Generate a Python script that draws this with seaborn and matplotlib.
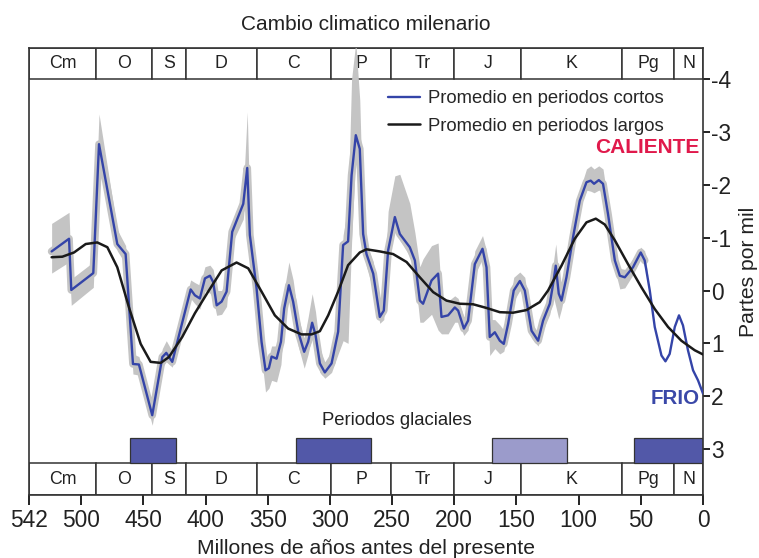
import numpy as np
import pandas as pd
import matplotlib
matplotlib.use("Agg")
import matplotlib.pyplot as plt
import seaborn as sns

# ---------------- data ----------------
short_age = [523.8, 509.8, 508.0, 490.3, 485.7, 471.0, 464.3, 458.4, 453.6, 442.9,
             434.8, 431.6, 426.8, 412.0, 408.6, 404.6, 400.5, 396.5, 393.9, 391.1,
             387.1, 383.1, 378.6, 369.7, 366.5, 364.4, 359.0, 355.0, 351.8, 349.1,
             346.9, 342.9, 339.4, 336.8, 333.0, 329.6, 325.5, 320.7, 317.5, 314.3,
             311.6, 308.1, 304.1, 298.7, 293.4, 289.4, 285.4, 282.6, 279.2, 276.0,
             273.3, 270.6, 265.2, 259.9, 256.7, 253.2, 247.8, 243.8, 235.8, 231.7,
             227.7, 225.1, 218.3, 213.0, 210.3, 205.0, 199.6, 196.9, 192.3, 188.9,
             183.5, 177.3, 174.1, 171.5, 167.4, 163.4, 160.2, 156.7, 152.2, 147.3,
             143.3, 137.9, 132.6, 128.6, 123.2, 120.5, 118.4, 116.0, 113.8, 109.8,
             104.5, 99.1, 93.7, 90.3, 87.6, 83.8, 80.4, 76.4, 70.9, 66.9,
             62.9, 56.3, 50.1, 46.9, 42.8, 38.8, 33.4, 30.2, 26.8, 22.7,
             19.3, 16.1, 12.1, 8.0, 4.0, 0.0]
short_val = [-0.74, -0.98, -0.01, -0.33, -2.77, -0.88, -0.69, 1.39, 1.40, 2.36,
             1.26, 1.18, 1.35, -0.02, 0.09, 0.15, -0.23, -0.28, -0.16, 0.28,
             0.21, 0.02, -1.11, -1.64, -2.32, -1.05, -0.04, 0.97, 1.51, 1.47,
             1.25, 1.29, 0.97, 0.34, -0.10, 0.21, 0.78, 1.16, 0.97, 0.61,
             0.84, 1.38, 1.55, 1.38, 0.78, -0.86, -0.93, -2.18, -2.94, -2.68,
             -1.07, -0.69, -0.32, 0.50, 0.38, -0.76, -1.39, -1.07, -0.82, -0.57,
             0.19, 0.25, -0.19, -0.32, 0.50, 0.47, 0.32, 0.38, 0.72, 0.57,
             -0.50, -0.79, -0.44, 0.88, 0.79, 0.95, 1.01, 0.63, 0.00, -0.18,
             0.00, 0.76, 0.95, 0.57, 0.25, -0.13, -0.47, 0.06, 0.19, -0.25,
             -1.01, -1.70, -2.05, -2.08, -2.02, -2.09, -2.02, -1.45, -0.57, -0.28,
             -0.25, -0.44, -0.72, -0.57, 0.00, 0.69, 1.23, 1.34, 1.20, 0.69,
             0.47, 0.66, 1.13, 1.51, 1.70, 1.95]

band_age = [523.8, 509.8, 508.0, 490.3, 485.7, 471.0, 464.3, 458.4, 453.6, 442.9,
            434.8, 431.6, 426.8, 412.0, 408.6, 404.6, 400.5, 396.5, 393.9, 391.1,
            387.1, 383.1, 378.6, 369.7, 366.5, 364.4, 359.0, 355.0, 351.8, 349.1,
            346.9, 342.9, 339.4, 336.8, 333.0, 329.6, 325.5, 320.7, 317.5, 314.3,
            311.6, 308.1, 304.1, 298.7, 293.4, 289.4, 285.4, 282.6, 279.2, 276.0,
            273.3, 270.6, 265.2, 259.9, 256.7, 253.2, 247.8, 243.8, 235.8, 231.7,
            227.7, 225.1, 218.3, 213.0, 210.3, 205.0, 199.6, 196.9, 192.3, 188.9,
            183.5, 177.3, 174.1, 171.5, 167.4, 163.4, 160.2, 156.7, 152.2, 147.3,
            143.3, 137.9, 132.6, 128.6, 123.2, 120.5, 118.4, 116.0, 113.8, 109.8,
            104.5, 99.1, 93.7, 90.3, 87.6, 83.8, 80.4, 76.4, 70.9, 66.9,
            62.9, 56.3, 50.1, 46.9, 44.5]
band_top = [-1.27, -1.48, -0.22, -0.54, -3.34, -1.15, -0.85, 1.20, 1.25, 2.15,
            1.10, 0.95, 1.15, -0.20, -0.15, -0.10, -0.45, -0.48, -0.40, 0.00,
            0.00, -0.25, -1.30, -1.85, -3.38, -1.50, -0.25, 0.75, 1.30, 1.25,
            1.05, 1.05, 0.70, 0.00, -0.54, -0.20, 0.50, 0.90, 0.50, 0.06,
            0.40, 1.10, 1.35, 1.15, 0.50, -1.05, -1.60, -4.00, -4.70, -3.60,
            -1.30, -0.90, -0.55, 0.30, 0.10, -1.50, -2.17, -2.20, -1.65, -1.10,
            -0.45, -0.60, -0.85, -0.90, 0.10, 0.20, 0.10, 0.15, 0.50, 0.35,
            -0.75, -1.04, -0.75, 0.55, 0.55, 0.65, 0.75, 0.40, -0.25, -0.35,
            -0.25, 0.60, 0.80, 0.40, 0.05, -0.50, -0.88, -0.30, 0.00, -0.45,
            -1.20, -1.90, -2.30, -2.36, -2.30, -2.36, -2.30, -1.65, -0.80, -0.42,
            -0.40, -0.60, -0.82, -0.75, -0.30]
band_bot = [-0.33, -0.54, 0.28, -0.06, -2.60, -0.75, -0.50, 1.58, 1.60, 2.55,
            1.45, 1.35, 1.45, 0.15, 0.25, 0.35, 0.00, 0.05, 0.15, 0.47,
            0.45, 0.30, -0.90, -1.35, -2.10, -0.85, 0.15, 1.25, 1.92, 1.85,
            1.70, 1.73, 1.40, 0.60, 0.10, 0.40, 1.05, 1.47, 1.20, 0.85,
            1.10, 1.55, 1.66, 1.55, 1.20, 0.95, 1.00, -0.90, -2.60, -2.30,
            -0.85, -0.45, 0.00, 0.62, 0.55, -0.55, -1.20, -0.95, -0.65, -0.30,
            0.60, 0.60, 0.45, 0.75, 0.82, 0.82, 0.60, 0.60, 0.85, 0.75,
            -0.30, -0.60, -0.20, 1.23, 1.10, 1.20, 1.15, 0.80, 0.20, 0.00,
            0.20, 0.90, 1.05, 0.75, 0.45, 0.10, 0.30, 0.54, 0.35, -0.10,
            -0.85, -1.55, -1.90, -1.88, -1.85, -1.90, -1.85, -1.30, -0.40, -0.03,
            -0.05, -0.30, -0.60, -0.45, -0.25]

long_age = [523.8, 515.2, 505.8, 496.4, 487.1, 479.0, 471.0, 461.6, 452.2, 444.2,
            436.1, 429.5, 418.8, 408.6, 397.9, 387.1, 375.1, 365.7, 355.0, 344.3,
            333.6, 322.8, 314.8, 308.1, 301.4, 293.4, 285.4, 276.0, 270.6, 259.9,
            249.2, 238.4, 227.7, 217.0, 206.3, 195.6, 184.9, 174.1, 163.4, 152.7,
            142.0, 131.3, 124.6, 113.8, 103.1, 93.7, 86.2, 79.0, 70.9, 60.3,
            49.5, 38.8, 28.1, 17.4, 6.7, 0.0]
long_val = [-0.63, -0.64, -0.72, -0.88, -0.91, -0.82, -0.44, 0.32, 1.01, 1.35,
            1.37, 1.26, 0.88, 0.43, 0.02, -0.38, -0.53, -0.42, 0.02, 0.47,
            0.72, 0.83, 0.83, 0.77, 0.47, 0.02, -0.48, -0.72, -0.78, -0.74,
            -0.69, -0.54, -0.25, 0.03, 0.19, 0.25, 0.26, 0.33, 0.41, 0.42,
            0.37, 0.22, 0.00, -0.47, -0.98, -1.29, -1.36, -1.25, -0.95, -0.50,
            -0.06, 0.35, 0.69, 0.95, 1.13, 1.21]

period_names = ["Cm", "O", "S", "D", "C", "P", "Tr", "J", "K", "Pg", "N"]
period_start = [542, 488, 443, 416, 359, 299, 251, 200, 146, 65, 23]
period_end = [488, 443, 416, 359, 299, 251, 200, 146, 65, 23, 0]

glacial_start = [460.8, 327.4, 169.8, 55.5]
glacial_end = [423.6, 266.6, 109.2, 0.0]
glacial_shade = ["dark", "dark", "light", "dark"]

x_ticks = [542, 500, 450, 400, 350, 300, 250, 200, 150, 100, 50, 0]
y_ticks = [-4, -3, -2, -1, 0, 1, 2, 3]

legend_labels = ["Promedio en periodos cortos", "Promedio en periodos largos"]

# ---------------- style ----------------
sns.set_style("ticks")
plt.rcParams["font.family"] = ["Liberation Sans", "DejaVu Sans"]
plt.rcParams["axes.unicode_minus"] = False

BLUE = "#3444A8"
GRAY = "#C4C4C4"
FRAME = "#333333"
shade_colors = {"dark": "#5258A8", "light": "#9B9BCB"}

fig = plt.figure(figsize=(7.59, 5.58), dpi=100)
ax = fig.add_axes([29 / 759, 1 - 495 / 558, 674 / 759, 447 / 558])
ax.set_xlim(542, 0)
ax.set_ylim(3.87, -4.59)

# period header & footer strips
p_start = np.array(period_start, float)
p_end = np.array(period_end, float)
for bottom, hgt, ymid in [(-4.59, 0.59, -4.30), (3.27, 0.60, 3.57)]:
    ax.bar(x=p_start, height=hgt, width=p_end - p_start, bottom=bottom, align="edge",
           color="white", edgecolor=FRAME, linewidth=1.1, zorder=1)
    for name, s, e in zip(period_names, p_start, p_end):
        ax.text((s + e) / 2, ymid, name, ha="center", va="center",
                fontsize=12.8, color="#222222", zorder=2)

# glacial periods
g_start = np.array(glacial_start)
g_end = np.array(glacial_end)
ax.bar(x=g_start, height=0.47, width=g_end - g_start, bottom=2.80, align="edge",
       color=[shade_colors[s] for s in glacial_shade], edgecolor=FRAME,
       linewidth=0.9, zorder=2)
ax.text(246, 2.46, "Periodos glaciales", ha="center", va="center",
        fontsize=13.3, color="#222222")

# uncertainty band
ax.fill_between(band_age, band_top, band_bot, color=GRAY, linewidth=0, zorder=3)
short_df = pd.DataFrame({"age": short_age, "val": short_val})
band_line = short_df[short_df["age"] >= min(band_age)]
sns.lineplot(data=band_line, x="age", y="val", ax=ax, color=GRAY, linewidth=5.5,
             estimator=None, sort=False, zorder=3)

# curves
sns.lineplot(data=short_df, x="age", y="val", ax=ax, color=BLUE, linewidth=1.7,
             estimator=None, sort=False, label=legend_labels[0], zorder=4)
long_df = pd.DataFrame({"age": long_age, "val": long_val})
sns.lineplot(data=long_df, x="age", y="val", ax=ax, color="#1A1A1A", linewidth=1.8,
             estimator=None, sort=False, label=legend_labels[1], zorder=5)

# legend
ax.legend(loc="upper left", bbox_to_anchor=(0.532, 0.906), frameon=False,
          fontsize=13.3, handlelength=1.75, handletextpad=0.45, borderpad=0,
          borderaxespad=0, labelspacing=0.58)

ax.text(3, -2.70, "CALIENTE", ha="right", va="center", fontsize=15,
        fontweight="bold", color="#E0194B")
ax.text(3, 2.04, "FRIO", ha="right", va="center", fontsize=14.8,
        fontweight="bold", color="#3A48A8")

# axes cosmetics
for sp in ax.spines.values():
    sp.set_color(FRAME)
    sp.set_linewidth(1.2)
ax.set_xticks(x_ticks)
ax.set_xticklabels([str(t) for t in x_ticks])
ax.set_yticks(y_ticks)
ax.set_yticklabels([str(t) for t in y_ticks])
ax.yaxis.tick_right()
ax.tick_params(axis="x", direction="out", length=7, width=1.4, labelsize=16.4,
               pad=3, colors="#222222")
ax.tick_params(axis="y", direction="out", length=5, width=1.4, labelsize=16.4,
               pad=1, colors="#222222")
ax.set_xlabel("Millones de años antes del presente", fontsize=15.2,
              color="#222222", labelpad=5)
ax.yaxis.set_label_position("right")
ax.set_ylabel("Partes por mil", fontsize=15.2, color="#222222")
ax.yaxis.set_label_coords((739 - 29) / 674, 0.5)
ax.set_title("Cambio climatico milenario", fontsize=15, color="#222222", pad=13)

fig.savefig("out.png", dpi=100)
